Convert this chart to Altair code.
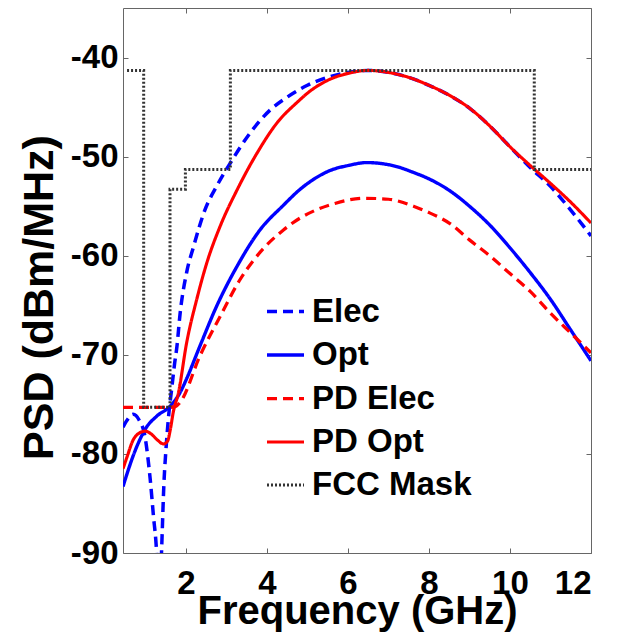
import altair as alt
import pandas as pd

# ---- data ----
elec_x = [0.45, 0.55, 0.7, 0.85, 0.99, 1.12, 1.2, 1.28, 1.34, 1.40, 1.46, 1.52, 1.58, 1.65, 1.72, 1.78,
          1.86, 2.02, 2.19, 2.47, 2.76, 3.09, 3.59, 4.08, 4.5, 5.0, 5.5, 6.0, 6.5, 7.0, 7.5, 8.0,
          8.5, 9.0, 9.5, 10.0, 10.5, 11.0, 11.5, 12.0]
elec_y = [-77.3, -76.6, -76.0, -76.6, -78.2, -82.5, -86.2, -90.0, -96.0, -90.0, -83.0, -79.0, -76.0, -73.5, -71.0, -69.2,
          -65.8, -61.7, -59.1, -55.4, -53.0, -50.7, -47.6, -45.3, -44.0, -42.8, -42.0, -41.5, -41.3, -41.5, -42.0, -42.8,
          -43.8, -45.1, -46.9, -49.0, -51.1, -53.0, -55.4, -58.0]

opt_x = [0.45, 0.55, 0.7, 0.85, 1.0, 1.28, 1.61, 1.86, 2.0, 2.35, 2.76, 3.26, 3.83, 4.41, 4.82, 5.15,
         5.56, 6.0, 6.47, 7.2, 7.62, 8.03, 8.5, 9.0, 9.5, 10.0, 10.5, 11.0, 11.5, 12.0]
opt_y = [-83.3, -82.0, -80.2, -78.7, -77.5, -76.2, -75.2, -73.8, -72.6, -69.1, -65.1, -61.1, -57.4, -54.9, -53.3, -52.3,
         -51.4, -50.9, -50.6, -51.0, -51.6, -52.3, -53.4, -55.0, -56.9, -59.2, -61.7, -64.4, -67.5, -70.6]

pdelec_x = [0.45, 1.0, 1.6, 1.75, 1.86, 2.35, 2.85, 3.34, 3.91, 4.41, 4.82, 5.15, 5.7, 6.4, 7.0, 7.62,
            8.03, 8.5, 9.0, 9.5, 10.0, 10.5, 11.0, 11.5, 12.0]
pdelec_y = [-75.3, -75.3, -75.3, -75.2, -74.8, -70.1, -66.1, -62.4, -59.3, -57.4, -56.2, -55.5, -54.7, -54.2, -54.3, -55.0,
            -55.7, -56.7, -58.4, -60.0, -61.8, -63.6, -65.8, -67.8, -69.8]

pdopt_x = [0.45, 0.55, 0.7, 0.85, 1.0, 1.15, 1.3, 1.45, 1.55, 1.62, 1.69, 1.82, 2.02, 2.27, 2.52, 2.85,
           3.26, 3.75, 4.25, 4.78, 5.0, 5.5, 6.0, 6.5, 7.0, 7.5, 8.0, 8.5, 9.0, 9.5, 10.0, 10.5, 11.0, 11.5, 12.0]
pdopt_y = [-81.5, -80.3, -78.6, -77.9, -77.7, -78.0, -78.6, -79.0, -78.7, -77.5, -75.8, -73.8, -68.8, -64.4, -60.7, -57.0,
           -53.4, -49.7, -46.6, -44.4, -43.6, -42.3, -41.6, -41.3, -41.5, -42.0, -42.8, -43.8, -45.1, -46.9, -49.0, -50.9, -52.7, -54.6, -56.7]

mask_x = [0.55, 0.96, 0.96, 1.61, 1.61, 1.99, 1.99, 3.1, 3.1, 10.6, 10.6, 12.0]
mask_y = [-41.3, -41.3, -75.3, -75.3, -53.3, -53.3, -51.3, -51.3, -41.3, -41.3, -51.3, -51.3]

series = ["Elec", "Opt", "PD Elec", "PD Opt", "FCC Mask"]
colors = ["#0000ff", "#0000ff", "#ff0000", "#ff0000", "#333333"]
dashes = [[10, 6], [1, 0], [10, 6], [1, 0], [2, 2]]
widths = [3.5, 3, 3, 3.5, 2]

x_ticks = [2, 4, 6, 8, 10, 12]
y_ticks = [-90, -80, -70, -60, -50, -40]

rows = []
for name, xs, ys in [("Elec", elec_x, elec_y), ("Opt", opt_x, opt_y),
                     ("PD Elec", pdelec_x, pdelec_y), ("PD Opt", pdopt_x, pdopt_y)]:
    for i, (a, b) in enumerate(zip(xs, ys)):
        rows.append({"series": name, "x": a, "y": b, "i": i})
curves = pd.DataFrame(rows)
mask = pd.DataFrame({"series": "FCC Mask", "x": mask_x, "y": mask_y, "i": list(range(len(mask_x)))})

FONT = "Liberation Sans"
xscale = alt.Scale(domain=[0.45, 12], nice=False, zero=False)
yscale = alt.Scale(domain=[-90, -35], nice=False, zero=False)

legend = alt.Legend(title=None, orient="none", legendX=142, legendY=283,
                    symbolType="stroke", symbolSize=1369, symbolStrokeWidth=3,
                    labelFont=FONT, labelFontSize=33, labelFontWeight="bold",
                    labelColor="black", rowPadding=5.5, padding=0, labelOffset=6)

enc_common = dict(
    color=alt.Color("series:N", scale=alt.Scale(domain=series, range=colors), legend=legend),
    strokeDash=alt.StrokeDash("series:N", scale=alt.Scale(domain=series, range=dashes), legend=legend),
    strokeWidth=alt.StrokeWidth("series:N", scale=alt.Scale(domain=series, range=widths), legend=None),
    order=alt.Order("i:Q"),
)

xaxis = alt.Axis(orient="bottom", values=x_ticks, labelExpr="'' + datum.value",
                 labelFont=FONT, labelFontSize=33, labelFontWeight="bold", labelColor="black",
                 tickSize=5, tickColor="#666", offset=-5, domain=False, grid=False, labelPadding=14,
                 title="Frequency (GHz)", titleFont=FONT, titleFontSize=40, titleFontWeight="bold",
                 titleColor="black", titleBaseline="alphabetic", titleY=75)
yaxis = alt.Axis(orient="left", values=y_ticks, labelExpr="'' + datum.value",
                 labelFont=FONT, labelFontSize=33, labelFontWeight="bold", labelColor="black",
                 tickSize=5, tickColor="#666", offset=-5, domain=False, grid=False, labelPadding=5,
                 title="PSD (dBm/MHz)", titleFont=FONT, titleFontSize=43, titleFontWeight="bold",
                 titleColor="black", titleBaseline="alphabetic", titleX=-76, titleY=289, titleAngle=270)

curve_layer = alt.Chart(curves).mark_line(clip=True, interpolate="monotone").encode(
    x=alt.X("x:Q", scale=xscale, axis=xaxis),
    y=alt.Y("y:Q", scale=yscale, axis=yaxis),
    **enc_common,
)

mask_layer = alt.Chart(mask).mark_line(clip=True).encode(
    x=alt.X("x:Q", scale=xscale, axis=None),
    y=alt.Y("y:Q", scale=yscale, axis=None),
    **enc_common,
)

tick_layer = alt.Chart(mask).mark_line(opacity=0).encode(
    x=alt.X("x:Q", scale=xscale,
            axis=alt.Axis(orient="top", values=x_ticks, labels=False, title=None, domain=False,
                          grid=False, tickSize=5, tickColor="#666", offset=-5)),
    y=alt.Y("y:Q", scale=yscale,
            axis=alt.Axis(orient="right", values=y_ticks, labels=False, title=None, domain=False,
                          grid=False, tickSize=5, tickColor="#666", offset=-5)),
)

chart = alt.layer(curve_layer, mask_layer, tick_layer).resolve_axis(
    x="independent", y="independent"
).properties(
    width=468, height=545,
    autosize=alt.AutoSizeParams(type="none"),
    padding={"left": 115, "top": 0, "right": 22, "bottom": 80},
).configure_view(stroke="#666", strokeWidth=1)

chart.save("out.html", embed_options={"renderer": "svg", "actions": False})
